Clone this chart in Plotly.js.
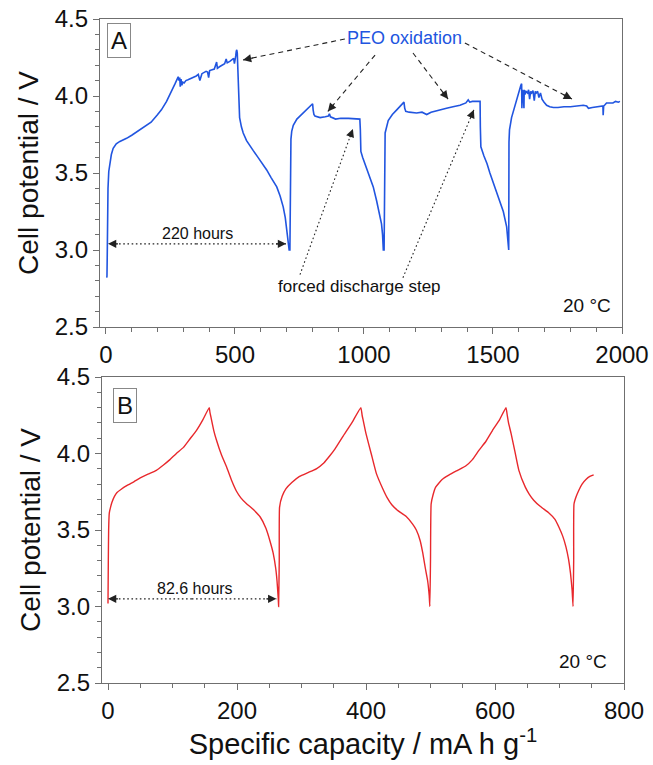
<!DOCTYPE html>
<html>
<head>
<meta charset="utf-8">
<script src="https://cdn.plot.ly/plotly-3.0.1.min.js"></script>
<style>html,body{margin:0;padding:0;background:#fff;}#chart{width:653px;height:765px;}</style>
</head>
<body>
<div id="chart"></div>
<script>
// ---------- Panel A data (specific capacity vs cell potential, PEO cell) ----------
const capacityA = [
  3, 4, 5, 6, 8, 11, 15, 21, 28, 40, 54, 68, 80, 100, 125, 150, 175, 198, 215, 235, 255, 268, 276, 280, 283, 286, 288, 291, 294, 298, 303, 310, 318, 326, 334, 342, 350, 358, 364, 372, 380, 388, 394, 398, 402, 410, 420, 429, 432, 440, 450, 460, 466, 470, 480, 490, 495, 498, 500, 503, 505, 507,
  509, 512, 514, 518, 525, 532, 545, 560, 571, 590, 610, 623, 640, 655, 662, 675, 687, 695, 703, 707, 710,
  713, 715, 717, 720, 726, 740, 765, 790, 801, 803, 806, 810, 830, 850, 862, 866, 870, 890, 910, 940, 965, 984,
  986, 988, 995, 1010, 1023, 1036, 1049, 1060, 1068, 1072, 1075,
  1078, 1080, 1082, 1094, 1110, 1127, 1145, 1155, 1158, 1162, 1175, 1190, 1204, 1225, 1243, 1260, 1280, 1300, 1320, 1345, 1372, 1395, 1404, 1410, 1420, 1435, 1450,
  1451, 1453, 1465, 1477, 1488, 1500, 1510, 1527, 1540, 1553, 1557, 1559,
  1561, 1562, 1564, 1572, 1580, 1592, 1600, 1605, 1608, 1611, 1612, 1614, 1617, 1620, 1621, 1624, 1628, 1634, 1638, 1642, 1646, 1650, 1655, 1660, 1664, 1668, 1673, 1678, 1684, 1690, 1698, 1708, 1720, 1734, 1752, 1775, 1800, 1830, 1850, 1863, 1870, 1885, 1902, 1915, 1926, 1927, 1929, 1935, 1940, 1953, 1965, 1975, 1986, 1992
];
const potentialA = [
  2.82, 2.83, 2.95, 3.20, 3.40, 3.51, 3.57, 3.62, 3.66, 3.69, 3.705, 3.715, 3.725, 3.745, 3.775, 3.80, 3.83, 3.875, 3.91, 3.965, 4.03, 4.08, 4.11, 4.125, 4.10, 4.12, 4.06, 4.11, 4.07, 4.09, 4.085, 4.10, 4.105, 4.11, 4.12, 4.125, 4.13, 4.14, 4.10, 4.145, 4.15, 4.16, 4.155, 4.12, 4.165, 4.17, 4.175, 4.22, 4.18, 4.19, 4.20, 4.21, 4.24, 4.215, 4.225, 4.235, 4.245, 4.21, 4.255, 4.26, 4.29, 4.30,
  4.28, 4.10, 3.95, 3.86, 3.80, 3.76, 3.71, 3.67, 3.645, 3.60, 3.555, 3.52, 3.47, 3.43, 3.41, 3.35, 3.28, 3.21, 3.11, 3.05, 3.00,
  3.00, 3.50, 3.72, 3.77, 3.81, 3.85, 3.89, 3.93, 3.95, 3.91, 3.88, 3.87, 3.86, 3.865, 3.87, 3.885, 3.865, 3.85, 3.855, 3.855, 3.85, 3.85,
  3.78, 3.64, 3.60, 3.53, 3.48, 3.41, 3.32, 3.24, 3.17, 3.10, 3.00,
  3.00, 3.60, 3.76, 3.84, 3.88, 3.91, 3.94, 3.96, 3.92, 3.90, 3.895, 3.89, 3.89, 3.895, 3.88, 3.895, 3.905, 3.91, 3.92, 3.93, 3.94, 3.955, 3.975, 3.96, 3.965, 3.965, 3.965,
  3.80, 3.67, 3.61, 3.56, 3.50, 3.44, 3.39, 3.32, 3.25, 3.15, 3.08, 3.00,
  3.00, 3.70, 3.78, 3.86, 3.91, 3.97, 4.02, 4.05, 4.07, 4.08, 3.92, 4.04, 4.02, 3.92, 4.04, 4.01, 4.03, 4.02, 4.04, 3.98, 4.03, 4.02, 4.035, 3.97, 4.03, 4.02, 4.03, 3.99, 4.02, 3.98, 3.96, 3.94, 3.93, 3.925, 3.925, 3.93, 3.93, 3.935, 3.94, 3.935, 3.92, 3.925, 3.93, 3.935, 3.935, 3.875, 3.935, 3.945, 3.955, 3.955, 3.955, 3.965, 3.96, 3.965
];

// ---------- Panel B data ----------
const capacityB = [
  0, 0.5, 1, 2, 4, 6, 10, 14, 20, 29, 40, 50, 62, 75, 86, 96, 106, 117, 127, 137, 147, 157,
  158, 160, 164, 168, 176, 184, 192, 199, 206, 214, 225, 236, 245, 251, 256, 260, 262, 264, 264.5,
  265.5, 266, 270, 276, 285, 297, 310, 323, 335, 343, 352, 364, 378, 392,
  394, 396, 400, 408, 416, 426, 433, 440, 450, 462, 472, 478, 484, 488, 492, 495.5, 498, 499,
  500, 501, 504, 508, 518, 529, 542, 555, 565, 575, 586, 596, 607, 617,
  619, 621, 625, 631, 637, 647, 653, 660, 670, 684, 693, 699, 705, 710, 714, 717, 719.5, 721,
  722, 722.5, 726, 730, 735, 741, 747, 753
];
const potentialB = [
  3.02, 3.30, 3.50, 3.61, 3.65, 3.68, 3.72, 3.745, 3.765, 3.79, 3.815, 3.84, 3.865, 3.89, 3.925, 3.96, 4.00, 4.04, 4.095, 4.15, 4.22, 4.30,
  4.27, 4.23, 4.15, 4.09, 3.99, 3.91, 3.82, 3.755, 3.71, 3.675, 3.635, 3.585, 3.51, 3.43, 3.35, 3.25, 3.17, 3.05, 3.00,
  3.30, 3.65, 3.72, 3.77, 3.81, 3.85, 3.875, 3.90, 3.94, 3.98, 4.03, 4.11, 4.20, 4.30,
  4.25, 4.21, 4.13, 4.00, 3.87, 3.77, 3.71, 3.665, 3.625, 3.59, 3.54, 3.50, 3.43, 3.35, 3.25, 3.17, 3.07, 3.00,
  3.30, 3.67, 3.73, 3.78, 3.83, 3.86, 3.89, 3.92, 3.96, 4.02, 4.08, 4.15, 4.22, 4.30,
  4.25, 4.20, 4.13, 4.01, 3.89, 3.78, 3.735, 3.695, 3.655, 3.61, 3.57, 3.52, 3.46, 3.39, 3.31, 3.22, 3.11, 3.00,
  3.30, 3.67, 3.72, 3.76, 3.80, 3.83, 3.85, 3.86
];

// ---------- Tick labels ----------
const yTickVals = [2.5, 3.0, 3.5, 4.0, 4.5];
const yTickText = ['2.5', '3.0', '3.5', '4.0', '4.5'];
const xTickValsA = [0, 500, 1000, 1500, 2000];
const xTickValsB = [0, 200, 400, 600, 800];

const FONT = 'Arial, "Liberation Sans", Helvetica, sans-serif';
const BLUE = '#2155e0';
const RED = '#e8282c';
const AXC = '#6f6f6f';

const W = 653, H = 765;
const margin = {l: 100, r: 29, t: 19, b: 82};
const plotW = W - margin.l - margin.r, plotH = H - margin.t - margin.b;

function xAxis(range, domain, tickvals, dminor, anchor, title) {
  const a = {
    domain: domain, range: range, anchor: anchor,
    showline: true, mirror: true, linecolor: AXC, linewidth: 1.2,
    ticks: 'outside', ticklen: 6, tickwidth: 1, tickcolor: AXC,
    tickvals: tickvals, tickfont: {family: FONT, size: 24, color: '#111'},
    minor: {dtick: dminor, ticks: 'outside', ticklen: 3.5, tickwidth: 1, tickcolor: AXC, showgrid: false},
    showgrid: false, zeroline: false
  };
  if (title) a.title = {text: title, font: {family: FONT, size: 29, color: '#111'}, standoff: 6};
  return a;
}
function yAxis(domain, anchor) {
  return {
    domain: domain, range: [2.5, 4.5], anchor: anchor,
    showline: true, mirror: true, linecolor: AXC, linewidth: 1.2,
    ticks: 'outside', ticklen: 6, tickwidth: 1, tickcolor: AXC,
    tickvals: yTickVals, ticktext: yTickText, tickfont: {family: FONT, size: 24, color: '#111'},
    minor: {dtick: 0.1, ticks: 'outside', ticklen: 3.5, tickwidth: 1, tickcolor: AXC, showgrid: false},
    showgrid: false, zeroline: false,
    title: {text: 'Cell potential / V', font: {family: FONT, size: 28, color: '#111'}, standoff: 7}
  };
}

const layout = {
  width: W, height: H, margin: margin,
  paper_bgcolor: '#fff', plot_bgcolor: '#fff', showlegend: false,
  xaxis: xAxis([-23, 2000], [0, 522 / 524], xTickValsA, 100, 'y', null),
  yaxis: yAxis([356 / 664, 1], 'x'),
  xaxis2: xAxis([-9.3, 800], [2 / 524, 1], xTickValsB, 50, 'y2', 'Specific capacity / mA h g<sup>-1</sup>'),
  yaxis2: yAxis([0, 306 / 664], 'x2'),
  shapes: [], annotations: []
};

const traces = [
  {x: capacityA, y: potentialA, xaxis: 'x', yaxis: 'y', type: 'scatter', mode: 'lines',
   line: {color: BLUE, width: 1.6}, hoverinfo: 'skip'},
  {x: capacityB, y: potentialB, xaxis: 'x2', yaxis: 'y2', type: 'scatter', mode: 'lines',
   line: {color: RED, width: 1.4, shape: 'spline', smoothing: 0.4}, hoverinfo: 'skip'}
];

// ---------- Annotation arrows (tail -> tip, data coords) ----------
function axesFor(xr) {
  return xr === 'x' ? [layout.xaxis, layout.yaxis] : [layout.xaxis2, layout.yaxis2];
}
function addArrow(xr, yr, tail, tip, dash) {
  layout.shapes.push({type: 'line', xref: xr, yref: yr, x0: tail[0], y0: tail[1], x1: tip[0], y1: tip[1],
    line: {color: '#222', width: 1.1, dash: dash}});
  const [xa, ya] = axesFor(xr);
  const pw = plotW * (xa.domain[1] - xa.domain[0]), ph = plotH * (ya.domain[1] - ya.domain[0]);
  const sx = pw / (xa.range[1] - xa.range[0]), sy = ph / (ya.range[1] - ya.range[0]);
  const dx = (tail[0] - tip[0]) * sx, dy = -(tail[1] - tip[1]) * sy;
  const n = Math.hypot(dx, dy), L = 12;
  layout.annotations.push({xref: xr, yref: yr, x: tip[0], y: tip[1], ax: dx / n * L, ay: dy / n * L,
    text: ' ', font: {size: 2}, showarrow: true, arrowhead: 2, arrowsize: 1.5, arrowwidth: 1.1, arrowcolor: '#222', standoff: 0});
}
const DASH = '5px,4px', DOT = '1.6px,2.6px';
// PEO oxidation (dashed)
addArrow('x', 'y', [926, 4.37], [531, 4.234], DASH);
addArrow('x', 'y', [1043, 4.266], [860, 3.90], DASH);
addArrow('x', 'y', [1190, 4.279], [1326, 3.98], DASH);
addArrow('x', 'y', [1391, 4.344], [1806, 3.98], DASH);
// forced discharge step (dotted)
addArrow('x', 'y', [752, 2.84], [957, 3.786], DOT);
addArrow('x', 'y', [1151, 2.82], [1426, 3.91], DOT);
// duration arrows (double-headed dotted)
addArrow('x', 'y', [350, 3.04], [8, 3.04], DOT);
addArrow('x', 'y', [350, 3.04], [698, 3.04], DOT);
addArrow('x2', 'y2', [130, 3.05], [0, 3.05], DOT);
addArrow('x2', 'y2', [130, 3.05], [261, 3.05], DOT);

// ---------- Text annotations ----------
const txt = (o) => Object.assign({showarrow: false, xanchor: 'center', yanchor: 'middle',
  font: {family: FONT, size: 16, color: '#111'}}, o);
layout.annotations.push(
  txt({xref: 'x domain', yref: 'y domain', x: 0.0134, y: 0.987, xanchor: 'left', yanchor: 'top', text: 'A',
       font: {family: FONT, size: 24, color: '#111'}, bordercolor: '#888', borderwidth: 1, borderpad: 3, bgcolor: '#fff'}),
  txt({xref: 'x2 domain', yref: 'y2 domain', x: 0.021, y: 0.964, xanchor: 'left', yanchor: 'top', text: 'B',
       font: {family: FONT, size: 24, color: '#111'}, bordercolor: '#888', borderwidth: 1, borderpad: 3, bgcolor: '#fff'}),
  txt({xref: 'x domain', yref: 'y domain', x: 0.933, y: 0.0714, text: '20 °C', font: {family: FONT, size: 19, color: '#111'}}),
  txt({xref: 'x2 domain', yref: 'y2 domain', x: 0.921, y: 0.069, text: '20 °C', font: {family: FONT, size: 19, color: '#111'}}),
  txt({xref: 'x', yref: 'y', x: 1159, y: 4.377, text: 'PEO oxidation', font: {family: FONT, size: 18, color: BLUE}}),
  txt({xref: 'x', yref: 'y', x: 981, y: 2.76, text: 'forced discharge step', font: {family: FONT, size: 17, color: '#111'}}),
  txt({xref: 'x', yref: 'y', x: 355, y: 3.104, text: '220 hours', font: {family: FONT, size: 16, color: '#111'}}),
  txt({xref: 'x2', yref: 'y2', x: 135, y: 3.12, text: '82.6 hours', font: {family: FONT, size: 16, color: '#111'}})
);

Plotly.newPlot('chart', traces, layout, {staticPlot: true, displayModeBar: false});
</script>
</body>
</html>
